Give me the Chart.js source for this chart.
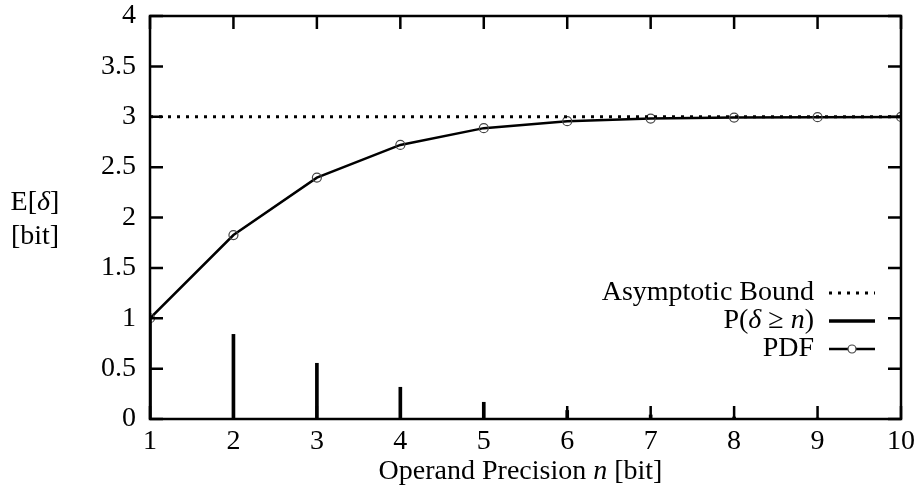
<!DOCTYPE html>
<html>
<head>
    <meta charset="UTF-8">
    <title>E[δ] vs operand precision</title>
    <script src="https://cdn.jsdelivr.net/npm/chart.js"></script>
    <style>
        html, body { margin: 0; padding: 0; background: #fff; }
        .chart-container { width: 917px; height: 494px; position: relative; }
    </style>
</head>
<body>
    <div class="chart-container">
        <canvas id="deltaChart"></canvas>
    </div>
    <script>
        // data
        const precision = [1, 2, 3, 4, 5, 6, 7, 8, 9, 10];
        const pdfMean = [1.0, 1.826, 2.396, 2.72, 2.887, 2.956, 2.982, 2.992, 2.996, 2.998];
        const probAtLeast = [1.0, 0.84, 0.553, 0.315, 0.166, 0.085, 0.04, 0.02, 0.01, 0.005];
        const asymptote = 3;
        const xTicks = [1, 2, 3, 4, 5, 6, 7, 8, 9, 10];
        const yTicks = [0, 0.5, 1, 1.5, 2, 2.5, 3, 3.5, 4];

        const FONT = '"Liberation Serif", "DejaVu Serif", serif';
        const SIZE = 28;

        // draw a run of text pieces, some in italic
        function drawPieces(ctx, pieces, x, y, align) {
            let total = 0;
            pieces.forEach(p => {
                ctx.font = (p.it ? 'italic ' : '') + SIZE + 'px ' + FONT;
                total += ctx.measureText(p.t).width;
            });
            let cx = align === 'right' ? x - total : (align === 'center' ? x - total / 2 : x);
            ctx.textAlign = 'left';
            ctx.textBaseline = 'middle';
            pieces.forEach(p => {
                ctx.font = (p.it ? 'italic ' : '') + SIZE + 'px ' + FONT;
                ctx.fillText(p.t, cx, y);
                cx += ctx.measureText(p.t).width;
            });
        }

        const framePlugin = {
            id: 'frame',
            afterDatasetsDraw(chart) {
                const ctx = chart.ctx;
                const a = chart.chartArea;
                const xs = chart.scales.x, ys = chart.scales.y;
                const tick = 13;
                ctx.save();
                ctx.strokeStyle = '#000';
                ctx.lineWidth = 2.5;
                ctx.strokeRect(a.left, a.top, a.right - a.left, a.bottom - a.top);
                ctx.beginPath();
                xTicks.forEach(v => {
                    const px = xs.getPixelForValue(v);
                    ctx.moveTo(px, a.bottom); ctx.lineTo(px, a.bottom - tick);
                    ctx.moveTo(px, a.top); ctx.lineTo(px, a.top + tick);
                });
                yTicks.forEach(v => {
                    const py = ys.getPixelForValue(v);
                    ctx.moveTo(a.left, py); ctx.lineTo(a.left + tick, py);
                    ctx.moveTo(a.right, py); ctx.lineTo(a.right - tick, py);
                });
                ctx.stroke();

                // labels
                ctx.fillStyle = '#000';
                drawPieces(ctx, [{t: 'E['}, {t: 'δ', it: true}, {t: ']'}], 35, 203, 'center');
                drawPieces(ctx, [{t: '[bit]'}], 35, 237, 'center');
                drawPieces(ctx, [{t: 'Operand Precision '}, {t: 'n', it: true}, {t: ' [bit]'}],
                    (a.left + a.right) / 2 - 5, 472, 'center');

                // legend
                const tx = 814, s0 = 829, s1 = 875;
                const rows = [293, 321, 349];
                drawPieces(ctx, [{t: 'Asymptotic Bound'}], tx, rows[0], 'right');
                drawPieces(ctx, [{t: 'P('}, {t: 'δ', it: true}, {t: ' ≥ '}, {t: 'n', it: true}, {t: ')'}], tx, rows[1], 'right');
                drawPieces(ctx, [{t: 'PDF'}], tx, rows[2], 'right');
                ctx.lineWidth = 3;
                ctx.setLineDash([3, 6]);
                ctx.beginPath(); ctx.moveTo(s0, rows[0]); ctx.lineTo(s1, rows[0]); ctx.stroke();
                ctx.setLineDash([]);
                ctx.lineWidth = 3.5;
                ctx.beginPath(); ctx.moveTo(s0, rows[1]); ctx.lineTo(s1, rows[1]); ctx.stroke();
                ctx.lineWidth = 2.5;
                ctx.beginPath(); ctx.moveTo(s0, rows[2]); ctx.lineTo(s1, rows[2]); ctx.stroke();
                ctx.lineWidth = 1.2;
                ctx.strokeStyle = '#444';
                ctx.fillStyle = '#fff';
                ctx.beginPath(); ctx.arc((s0 + s1) / 2, rows[2], 4, 0, Math.PI * 2); ctx.fill(); ctx.stroke();
                ctx.restore();
            }
        };

        new Chart(document.getElementById('deltaChart'), {
            type: 'line',
            data: {
                datasets: [{
                    label: 'Asymptotic Bound',
                    data: [{x: 1, y: asymptote}, {x: 10, y: asymptote}],
                    borderColor: '#000',
                    borderWidth: 3,
                    borderDash: [3, 6],
                    pointRadius: 0,
                    fill: false
                }, {
                    type: 'bar',
                    label: 'P(δ ≥ n)',
                    data: precision.map((x, i) => ({x: x, y: probAtLeast[i]})),
                    backgroundColor: '#000',
                    barThickness: 3
                }, {
                    label: 'PDF',
                    data: precision.map((x, i) => ({x: x, y: pdfMean[i]})),
                    borderColor: '#000',
                    borderWidth: 2.5,
                    pointRadius: 4.5,
                    pointBorderWidth: 1.2,
                    pointBorderColor: '#444',
                    pointBackgroundColor: 'rgba(0,0,0,0)',
                    tension: 0,
                    fill: false
                }]
            },
            options: {
                responsive: true,
                maintainAspectRatio: false,
                animation: false,
                layout: { padding: { left: 0, right: 16, top: 16, bottom: 0 } },
                plugins: { legend: { display: false }, tooltip: { enabled: false } },
                scales: {
                    x: {
                        type: 'linear',
                        min: 1, max: 10,
                        offset: false,
                        afterFit: s => { s.height = 75; s.paddingRight = 0; s.paddingLeft = 0; },
                        afterBuildTicks: s => { s.ticks = xTicks.map(v => ({value: v})); },
                        grid: { display: false, drawTicks: false },
                        border: { display: false },
                        ticks: { color: '#000', padding: 6, font: { family: FONT, size: SIZE } }
                    },
                    y: {
                        min: 0, max: 4,
                        afterFit: s => { s.width = 150; s.paddingTop = 0; s.paddingBottom = 0; },
                        afterBuildTicks: s => { s.ticks = yTicks.map(v => ({value: v})); },
                        grid: { display: false, drawTicks: false },
                        border: { display: false },
                        ticks: {
                            color: '#000', padding: 14, font: { family: FONT, size: SIZE },
                            callback: v => String(v)
                        }
                    }
                }
            },
            plugins: [framePlugin]
        });
    </script>
</body>
</html>
